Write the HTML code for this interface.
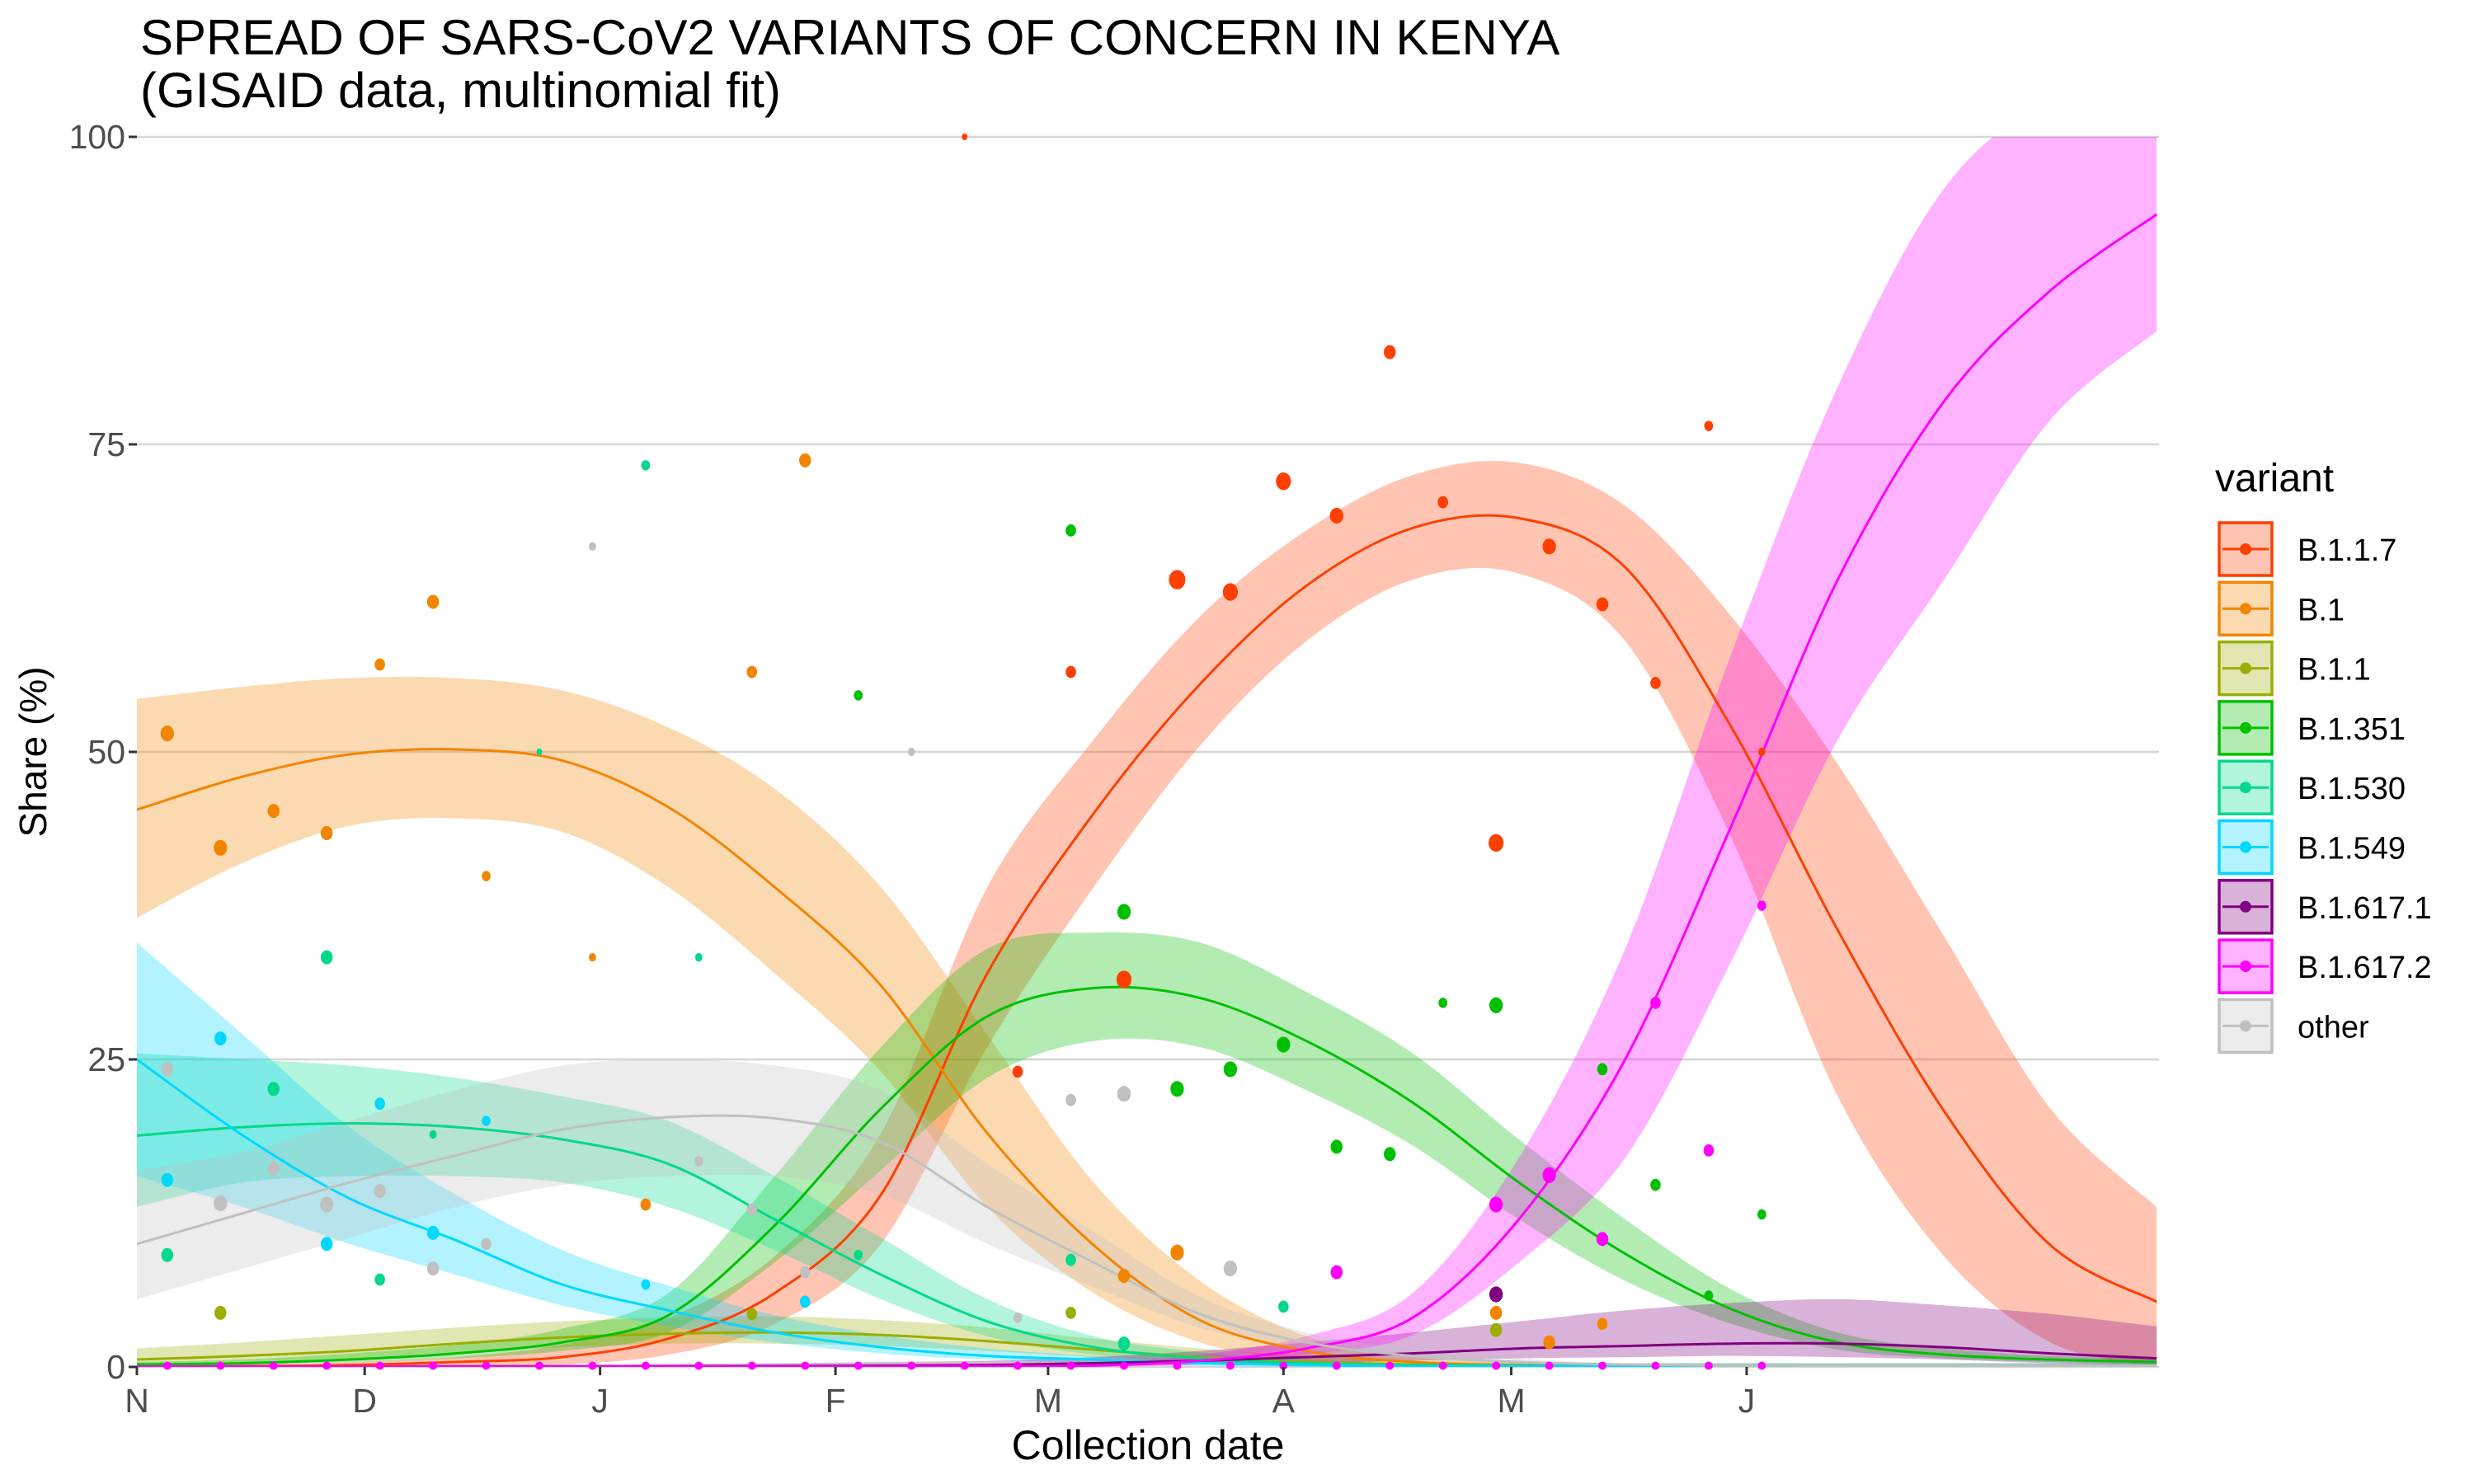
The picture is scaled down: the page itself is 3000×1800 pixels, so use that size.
<!DOCTYPE html>
<html><head><meta charset="utf-8"><style>
html,body{margin:0;padding:0;background:#fff;}
svg{display:block;font-family:"Liberation Sans",Arial,sans-serif;}
</style></head><body>
<svg id="chart" width="3000" height="1800" viewBox="0 0 3000 1800" xmlns="http://www.w3.org/2000/svg">
<defs><clipPath id="panelClip"><rect x="166" y="166" width="2452" height="1492"/></clipPath></defs>
<text x="170" y="66" font-size="60" fill="#000">SPREAD OF SARS-CoV2 VARIANTS OF CONCERN IN KENYA</text>
<text x="170" y="130" font-size="60" fill="#000">(GISAID data, multinomial fit)</text>
<g id="grid"></g>
<g id="bands" clip-path="url(#panelClip)"></g>
<g id="lines" clip-path="url(#panelClip)"></g>
<g id="points"></g>
<g id="axes"></g>
<text x="1392" y="1770" font-size="50" text-anchor="middle" fill="#000">Collection date</text>
<text transform="translate(56,912) rotate(-90)" font-size="46" text-anchor="middle" fill="#000">Share (%)</text>
<g id="legend"></g>
</svg>
<script>
// ---- data ----
const variants = ["B.1.1.7","B.1","B.1.1","B.1.351","B.1.530","B.1.549","B.1.617.1","B.1.617.2","other"];
const colors = ["#ff3f00","#f28500","#9aad00","#00c000","#00d98a","#00d8ff","#800080","#ff00ff","#c0c0c0"];
const fitDays = [0,14,28,42,56,70,84,98,112,126,140,154,168,182,196,210,224,238,252,266];
const fitB117 = [0,0.05,0.15,0.4,0.8,2.3,6,14,32,45,55.5,63.5,68.2,69,65,52,35.5,20.8,9.9,5.3];
const loB117 = [0,0,0.05,0.1,0.2,1,3.5,10,26,39,50.5,59,64,64.5,59,43,22,9,2,0];
const hiB117 = [0.1,0.2,0.4,0.8,1.8,4,9,19,39,51,61,68,72.5,73.5,70,61,49,35,21,13];
const fitB1 = [45.3,48,49.8,50.2,49.3,45.5,39,31,19,9.9,3.8,1.3,0.4,0.15,0.05,0.05,0.05,0.05,0.05,0.05];
const loB1 = [36.5,41,44,44.6,43.5,39,32,24,13,6,2,0.5,0.1,0,0,0,0,0,0,0];
const hiB1 = [54.3,55.3,56,56,55,52,47,39,27,15,7,2.5,0.9,0.4,0.2,0.2,0.2,0.2,0.2,0.2];
const fitB11 = [0.6,0.9,1.3,1.9,2.4,2.7,2.8,2.6,2.1,1.4,0.8,0.4,0.2,0.1,0.05,0.05,0.05,0.05,0.05,0.05];
const loB11 = [0.2,0.4,0.7,1.2,1.6,1.9,1.9,1.7,1.3,0.8,0.4,0.2,0.1,0,0,0,0,0,0,0];
const hiB11 = [1.5,2,2.6,3.2,3.7,4,4.1,3.8,3.2,2.3,1.5,0.9,0.5,0.3,0.3,0.3,0.3,0.3,0.3,0.3];
const fitB1351 = [0.2,0.3,0.6,1.1,2,4.2,11.5,21,28.5,30.8,30,26.5,21.5,15,9.2,4.7,2,1,0.6,0.4];
const loB1351 = [0.1,0.2,0.4,0.7,1.3,2.8,8.5,16,23.5,26.5,26,22.5,18,12,7,3.5,1.4,0.7,0.4,0.2];
const hiB1351 = [0.4,0.6,1.1,1.8,3.1,6,15.5,26,34,35.3,34.5,30.5,25.5,18.5,12,6.3,2.8,1.5,0.9,0.7];
const fitB1530 = [18.8,19.5,19.8,19.5,18.5,16.5,12,7.5,3.7,1.6,0.7,0.3,0.15,0.1,0.1,0.1,0.1,0.1,0.1,0.1];
const loB1530 = [13,15,15.5,15.5,15,13,9.5,5.5,2.5,1,0.4,0.2,0,0,0,0,0,0,0,0];
const hiB1530 = [25.5,25,24.5,23.5,22,20,15.5,10.5,5.5,2.5,1.2,0.6,0.3,0.3,0.3,0.3,0.3,0.3,0.3,0.3];
const fitB1549 = [25,18.8,13.7,10.3,6.7,4.6,2.8,1.6,0.9,0.6,0.3,0.15,0.05,0.05,0.05,0.05,0.05,0.05,0.05,0.05];
const loB1549 = [15.5,13,10,7.5,5,3.3,2,1.1,0.6,0.3,0.1,0,0,0,0,0,0,0,0,0];
const hiB1549 = [34.5,27,19.5,14,9.5,6.6,4.2,2.6,1.5,0.9,0.5,0.3,0.3,0.3,0.3,0.3,0.3,0.3,0.3,0.3];
const fitB16171 = [0.02,0.02,0.02,0.03,0.04,0.05,0.07,0.1,0.15,0.3,0.5,0.8,1.1,1.5,1.7,1.9,1.9,1.6,1.1,0.7];
const loB16171 = [0,0,0,0,0,0,0,0,0.02,0.1,0.2,0.3,0.5,0.7,0.8,0.9,0.8,0.6,0.3,0.15];
const hiB16171 = [0.2,0.2,0.2,0.2,0.2,0.25,0.3,0.4,0.5,0.8,1.3,2,2.8,3.7,4.6,5.2,5.5,5,4.3,3.3];
const fitB16172 = [0.02,0.02,0.02,0.02,0.02,0.02,0.02,0.03,0.05,0.1,0.5,1.5,4,12,25,44,64,78.5,87.5,93.7];
const loB16172 = [0,0,0,0,0,0,0,0,0,0.02,0.2,1,2.6,8.5,17,33,51,64,77,84.2];
const hiB16172 = [0.1,0.1,0.1,0.1,0.1,0.1,0.1,0.1,0.2,0.3,1,2.5,6,17,34,58,79.7,95.8,103,105];
const fitOther = [10,12.5,15,17.2,19.3,20.3,20.2,18.3,13,8.5,4.3,2,0.9,0.4,0.2,0.1,0.1,0.1,0.1,0.1];
const loOther = [5.5,8,10.5,13,14.8,15.5,15.5,14,10,6.5,3.2,1.4,0.6,0.2,0,0,0,0,0,0];
const hiOther = [16,17.5,20,22.5,24.5,25,24.5,22.5,16.5,11,5.7,2.8,1.4,0.7,0.3,0.3,0.3,0.3,0.3,0.3];
const fits = [fitB117,fitB1,fitB11,fitB1351,fitB1530,fitB1549,fitB16171,fitB16172,fitOther];
const los = [loB117,loB1,loB11,loB1351,loB1530,loB1549,loB16171,loB16172,loOther];
const his = [hiB117,hiB1,hiB11,hiB1351,hiB1530,hiB1549,hiB16171,hiB16172,hiOther];
// observed points: week index (day = 4 + 7*week), variant index, share %, size
const ptWeek = [15,16,17,18,19,20,21,22,23,24,25,26,27,28,29,30, 0,1,2,3,4,5,6,8,9,11,12,18,19,25,26,27, 1,11,17,25, 13,17,18,19,20,21,22,23,24,25,27,28,29,30, 0,2,3,4,5,7,9,10,13,17,18,21, 0,1,3,4,5,6,9,12, 0,1,2,3,4,5,6,8,10,11,12,14,16,17,18,20, 22,25,26,27,28,29,30, 25];
const ptVar =  [0,0,0,0,0,0,0,0,0,0,0,0,0,0,0,0, 1,1,1,1,1,1,1,1,1,1,1,1,1,1,1,1, 2,2,2,2, 3,3,3,3,3,3,3,3,3,3,3,3,3,3, 4,4,4,4,4,4,4,4,4,4,4,4, 5,5,5,5,5,5,5,5, 8,8,8,8,8,8,8,8,8,8,8,8,8,8,8,8, 7,7,7,7,7,7,7, 6];
const ptVal =  [100,24,56.5,31.5,64,63,72,69.2,82.5,70.3,42.6,66.7,62,55.6,76.5,50, 51.5,42.2,45.2,43.4,57.1,62.2,39.9,33.3,13.2,56.5,73.7,7.4,9.3,4.4,2,3.5, 4.4,4.3,4.4,3, 54.6,68,37,22.6,24.2,26.2,17.9,17.3,29.6,29.4,24.2,14.8,5.8,12.4, 9.1,22.6,33.3,7.1,18.9,50,73.3,33.3,9.1,8.7,1.9,4.9, 15.2,26.7,10,21.4,10.9,20,6.7,5.3, 24.2,13.3,16.1,13.2,14.3,8,10,66.7,16.7,12.8,7.7,50,4,21.7,22.2,8, 7.7,13.2,15.6,10.4,29.6,17.6,37.5, 5.9];
const ptSize = [1,4,4,7,8,7,7,6,5,4,7,6,5,4,3,2, 6,6,5,5,4,5,3,2,4,4,5,5,6,5,5,4, 5,4,4,5, 3,4,6,6,6,6,5,5,3,6,4,4,3,3, 5,5,5,4,2,1,3,2,3,4,5,4, 5,5,5,4,5,3,3,4, 5,6,5,6,5,5,4,2,3,4,4,2,3,4,6,6, 5,6,6,5,4,4,3, 6];
const yTicks = [0,25,50,75,100];
const xTickDays = [0,30,61,92,120,151,181,212];
const xTickLabels = ["N","D","J","F","M","A","M","J"];

// ---- scales ----
const X0 = 166, X1 = 2618, Y0 = 1658, Y1 = 166;
const pxPerDay = (2118 - 166) / 212;
function xs(d){ return X0 + d * pxPerDay; }
function ys(v){ return Y0 - (v / 100) * (Y0 - Y1); }
const NS = "http://www.w3.org/2000/svg";
function mk(tag, parent){ const e = document.createElementNS(NS, tag); parent.appendChild(e); return e; }
function crPath(pts){
  let d = "M" + pts[0][0].toFixed(1) + "," + pts[0][1].toFixed(1);
  for (let i = 0; i < pts.length - 1; i++){
    const p0 = pts[Math.max(0,i-1)], p1 = pts[i], p2 = pts[i+1], p3 = pts[Math.min(pts.length-1,i+2)];
    const c1x = p1[0] + (p2[0]-p0[0])/6, c1y = p1[1] + (p2[1]-p0[1])/6;
    const c2x = p2[0] - (p3[0]-p1[0])/6, c2y = p2[1] - (p3[1]-p1[1])/6;
    d += "C" + c1x.toFixed(1)+","+c1y.toFixed(1)+" "+c2x.toFixed(1)+","+c2y.toFixed(1)+" "+p2[0].toFixed(1)+","+p2[1].toFixed(1);
  }
  return d;
}
function crCont(pts){ return crPath(pts).replace(/^M/, "L"); }

const grid = document.getElementById("grid");
const axes = document.getElementById("axes");
yTicks.forEach(function(t){
  const l = mk("line", grid);
  
  
  l.setAttribute("x1", X0); l.setAttribute("x2", X1);
  l.setAttribute("y1", ys(t)); l.setAttribute("y2", ys(t));
  l.setAttribute("stroke", "#d6d6d6"); l.setAttribute("stroke-width", "2.5");
  const tk = mk("line", axes);
  
  
  tk.setAttribute("x1", X0 - 10); tk.setAttribute("x2", X0);
  tk.setAttribute("y1", ys(t)); tk.setAttribute("y2", ys(t));
  tk.setAttribute("stroke", "#333"); tk.setAttribute("stroke-width", "3");
  const tx = mk("text", axes);
  
  
  tx.setAttribute("x", X0 - 14); tx.setAttribute("y", ys(t) + 14);
  tx.setAttribute("text-anchor", "end"); tx.setAttribute("font-size", "41"); tx.setAttribute("fill", "#4d4d4d");
  tx.textContent = String(t);
});
xTickDays.forEach(function(d, i){
  const tk = mk("line", axes);
  
  
  tk.setAttribute("x1", xs(d)); tk.setAttribute("x2", xs(d));
  tk.setAttribute("y1", Y0); tk.setAttribute("y2", Y0 + 10);
  tk.setAttribute("stroke", "#333"); tk.setAttribute("stroke-width", "3");
  const tx = mk("text", axes);
  
  
  tx.setAttribute("x", xs(d)); tx.setAttribute("y", Y0 + 55);
  tx.setAttribute("text-anchor", "middle"); tx.setAttribute("font-size", "41"); tx.setAttribute("fill", "#4d4d4d");
  tx.textContent = xTickLabels[i];
});

const bands = document.getElementById("bands");
const lines = document.getElementById("lines");
variants.forEach(function(v, vi){
  const up = fitDays.map(function(d, k){ return [xs(d), ys(his[vi][k])]; });
  const dn = fitDays.map(function(d, k){ return [xs(d), ys(los[vi][k])]; }).reverse();
  const b = mk("path", bands);
  
  
  b.setAttribute("d", crPath(up) + crCont(dn) + "Z");
  b.setAttribute("fill", colors[vi]); b.setAttribute("fill-opacity", "0.3");
  const ln = mk("path", lines);
  
  
  ln.setAttribute("d", crPath(fitDays.map(function(d, k){ return [xs(d), ys(fits[vi][k])]; })));
  ln.setAttribute("fill", "none"); ln.setAttribute("stroke", colors[vi]); ln.setAttribute("stroke-width", "3");
});
const points = document.getElementById("points");
for (let w = 0; w <= 30; w++){
  const z = mk("circle", points);
  
  
  z.setAttribute("cx", xs(4 + 7*w)); z.setAttribute("cy", ys(0.1)); z.setAttribute("r", 5);
  z.setAttribute("fill", colors[7]);
}
ptWeek.forEach(function(w, i){
  const c = mk("ellipse", points);
  
  
  const r = 3 + ptSize[i] * 1.1;
  c.setAttribute("cx", xs(4 + 7*w)); c.setAttribute("cy", ys(ptVal[i]));
  c.setAttribute("rx", r * 0.85); c.setAttribute("ry", r);
  c.setAttribute("fill", colors[ptVar[i]]);
});

const legend = document.getElementById("legend");
const lt = mk("text", legend);


lt.setAttribute("x", 2686); lt.setAttribute("y", 596); lt.setAttribute("font-size", "48"); lt.setAttribute("fill", "#000");
lt.textContent = "variant";
variants.forEach(function(v, vi){
  const y = 632 + vi * 72.3;
  const g = mk("g", legend);
  
  
  const r = mk("rect", g);
  r.setAttribute("x", 2691); r.setAttribute("y", y + 2); r.setAttribute("width", 64); r.setAttribute("height", 64);
  r.setAttribute("fill", colors[vi]); r.setAttribute("fill-opacity", "0.3");
  r.setAttribute("stroke", colors[vi]); r.setAttribute("stroke-width", "3.5");
  const l = mk("line", g);
  l.setAttribute("x1", 2695); l.setAttribute("x2", 2751); l.setAttribute("y1", y + 34); l.setAttribute("y2", y + 34);
  l.setAttribute("stroke", colors[vi]); l.setAttribute("stroke-width", "3");
  const c = mk("circle", g);
  c.setAttribute("cx", 2723); c.setAttribute("cy", y + 34); c.setAttribute("r", 7);
  c.setAttribute("fill", colors[vi]);
  const t = mk("text", g);
  t.setAttribute("x", 2786); t.setAttribute("y", y + 48); t.setAttribute("font-size", "38"); t.setAttribute("fill", "#000");
  t.textContent = v;
});
</script>
</body></html>
